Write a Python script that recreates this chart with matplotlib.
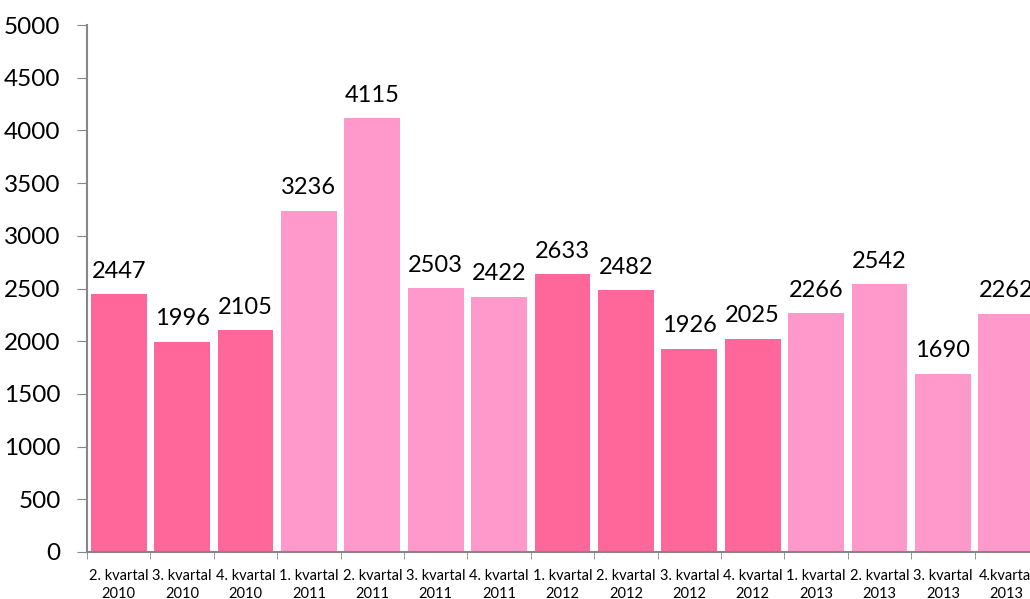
import numpy as np
import matplotlib.pyplot as plt

# Kvartalstall
kvartaler = ['2. kvartal\n2010', '3. kvartal\n2010', '4. kvartal\n2010',
             '1. kvartal\n2011', '2. kvartal\n2011', '3. kvartal\n2011', '4. kvartal\n2011',
             '1. kvartal\n2012', '2. kvartal\n2012', '3. kvartal\n2012', '4. kvartal\n2012',
             '1. kvartal\n2013', '2. kvartal\n2013', '3. kvartal\n2013', '4.kvartal\n2013']
verdier = [2447, 1996, 2105, 3236, 4115, 2503, 2422, 2633, 2482, 1926, 2025, 2266, 2542, 1690, 2262]
aar = [2010, 2010, 2010, 2011, 2011, 2011, 2011, 2012, 2012, 2012, 2012, 2013, 2013, 2013, 2013]

mork = '#FF6699'
lys = '#FF99CC'
farger = [mork if a % 2 == 0 else lys for a in aar]

plt.rcParams['font.family'] = ['Lato', 'DejaVu Sans']

fig = plt.figure(figsize=(10.30, 5.99), dpi=100)
ax = fig.add_axes([87 / 1030, 1 - 552 / 599, (1038 - 87) / 1030, (552 - 25) / 599])

x = np.arange(len(verdier))
ax.bar(x, verdier, width=0.88, color=farger)

for xi, v in zip(x, verdier):
    ax.annotate(str(v), (xi, v), xytext=(0, 9), textcoords='offset points',
                ha='center', va='bottom', fontsize=17, clip_on=False)

ax.set_xlim(-0.5, len(verdier) - 0.5)
ax.set_ylim(0, 5000)
ax.set_yticks(np.arange(0, 5001, 500))
ax.tick_params(axis='y', labelsize=17.5, length=7, color='#868686', pad=12)

# etiketter midt i kategorien, tikk mellom kategoriene
ax.set_xticks(x)
ax.set_xticklabels(kvartaler, fontsize=10.5, linespacing=1.35)
ax.tick_params(axis='x', length=0, pad=12)
ax.set_xticks(np.arange(-0.5, len(verdier), 1), minor=True)
ax.tick_params(axis='x', which='minor', length=5, color='#868686')

for s in ['top', 'right']:
    ax.spines[s].set_visible(False)
for s in ['left', 'bottom']:
    ax.spines[s].set_color('#868686')
    ax.spines[s].set_linewidth(1.5)

fig.savefig('out.png', dpi=100)
